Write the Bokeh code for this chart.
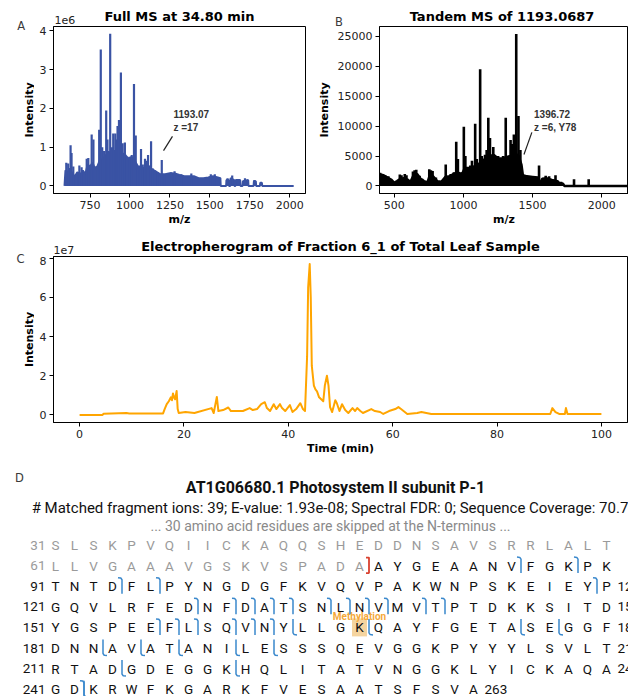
import math
from bokeh.plotting import figure
from bokeh.layouts import column, row
from bokeh.models import Range1d, FixedTicker, ColumnDataSource
from bokeh.embed import file_html
from bokeh.resources import INLINE
from bokeh.core.properties import value

# ---------------- Panel A : full MS (intensity in units of 1e6) ----------------
a_peak_mz = [601, 613, 628, 634, 645, 666, 683, 697, 712, 729,
             739, 760, 771, 781, 796, 807, 817, 826, 838, 851,
             859, 866, 876, 887, 895, 908, 916, 922, 931, 943,
             954, 968, 981, 996, 1011, 1025, 1036, 1048, 1069, 1080,
             1094, 1105, 1113, 1132, 1143, 1157, 1174, 1199, 1216, 1258,
             1279, 1321, 1384, 1506, 1531, 1611, 1640, 1720, 1779, 1820]
a_peak_int = [0.60, 0.58, 1.05, 0.85, 0.50, 0.30, 0.53, 0.48, 0.35, 0.70,
              0.72, 1.33, 1.20, 0.50, 0.50, 1.45, 3.52, 1.00, 0.90, 1.95,
              1.20, 0.90, 3.93, 1.00, 1.35, 1.35, 1.20, 1.55, 1.70, 2.93,
              1.10, 1.12, 0.75, 0.75, 0.80, 2.63, 1.30, 0.45, 0.95, 0.55,
              0.70, 0.65, 0.80, 1.15, 0.45, 0.40, 0.35, 0.67, 0.30, 0.35,
              0.38, 0.30, 0.32, 0.30, 0.30, 0.20, 0.27, 0.20, 0.15, 0.10]
a_floor_mz = [590, 596, 610, 625, 640, 655, 670, 690, 705, 720,
              735, 750, 765, 780, 795, 810, 830, 850, 870, 890,
              910, 930, 950, 970, 990, 1010, 1030, 1050, 1070, 1090,
              1110, 1130, 1150, 1170, 1190, 1220, 1250, 1280, 1310, 1340,
              1370, 1400, 1430, 1460, 1490, 1520, 1550, 1566, 1568, 1602,
              1604, 1618, 1620, 1628, 1630, 1652, 1654, 1660, 1662, 1690,
              1692, 1705, 1707, 1740, 1742, 1774, 1776, 1788, 1790, 1814,
              1816, 1826, 1828, 2025]
a_floor_int = [0.0, 0.40, 0.35, 0.45, 0.30, 0.25, 0.35, 0.30, 0.40, 0.30,
               0.55, 0.50, 0.60, 0.45, 0.50, 0.65, 0.70, 0.80, 0.85, 0.90,
               0.90, 0.95, 0.85, 0.80, 0.70, 0.75, 0.65, 0.50, 0.50, 0.45,
               0.55, 0.45, 0.40, 0.35, 0.30, 0.30, 0.33, 0.32, 0.28, 0.25,
               0.25, 0.25, 0.20, 0.20, 0.22, 0.25, 0.22, 0.20, 0.0, 0.0,
               0.15, 0.15, 0.0, 0.0, 0.20, 0.15, 0.0, 0.0, 0.15, 0.15,
               0.0, 0.0, 0.12, 0.15, 0.0, 0.0, 0.12, 0.12, 0.0, 0.0,
               0.08, 0.08, 0.0, 0.0]
a_xticks = [750, 1000, 1250, 1500, 1750, 2000]
a_yticks = [0, 1, 2, 3, 4]
a_annot_tip = (1210, 0.91)
a_annot_end = (1266, 1.28)
a_annot_text = ["1193.07", "z =17"]

# ---------------- Panel B : tandem MS ----------------
b_peak_mz = [397, 410, 434, 457, 540, 552, 576, 588, 635, 647,
             659, 683, 701, 753, 765, 777, 801, 872, 908, 931,
             948, 960, 1003, 1014, 1050, 1062, 1085, 1097, 1121, 1133,
             1156, 1168, 1180, 1192, 1216, 1251, 1287, 1306, 1330, 1341,
             1353, 1365, 1382, 1398, 1412, 1547, 1595, 1620, 1666, 1706,
             1800, 1906]
b_peak_int = [2200, 2000, 1800, 1600, 1900, 1800, 2000, 1800, 2400, 2600,
              2700, 1700, 1200, 2800, 2600, 2500, 1400, 3600, 2000, 2300,
              7400, 4500, 9900, 5000, 3400, 4200, 10400, 4500, 19500, 5000,
              5200, 6000, 11400, 8000, 6500, 5000, 5000, 11400, 5000, 7700,
              7000, 8600, 25400, 11700, 6000, 3400, 1700, 1600, 1800, 700,
              1100, 1100]
b_floor_mz = [388, 420, 450, 480, 500, 520, 545, 570, 600, 615,
              640, 665, 690, 715, 740, 760, 785, 810, 840, 870,
              900, 930, 960, 990, 1010, 1040, 1070, 1100, 1130, 1160,
              1190, 1220, 1250, 1280, 1310, 1340, 1370, 1400, 1420, 1430,
              1460, 1500, 1540, 1550, 1570, 1600, 1640, 1680, 1700, 1720,
              1730, 2200]
b_floor_int = [2000, 1800, 1400, 1000, 500, 800, 1200, 1300, 1000, 600,
               1800, 2000, 1200, 800, 600, 2000, 1500, 800, 700, 1500,
               1600, 2000, 2200, 2000, 3000, 3000, 3200, 3500, 4000, 4600,
               5000, 5200, 4600, 4600, 4800, 5000, 5500, 5000, 3500, 1800,
               1600, 1500, 1400, 300, 1200, 1300, 1000, 800, 300, 400,
               0, 0]
b_xticks = [500, 1000, 1500, 2000]
b_yticks = [0, 5000, 10000, 15000, 20000, 25000]
b_annot_tip = (1438, 5250)
b_annot_end = (1495, 8950)
b_annot_text = ["1396.72", "z =6, Y78"]

# ---------------- Panel C : electropherogram (intensity in units of 1e7) ----------------
c_time = [0, 4.4, 4.6, 9.0, 9.5, 12.0, 16.0, 16.3, 16.7, 17.1,
          17.5, 17.7, 17.9, 18.1, 18.3, 18.6, 18.8, 19.0, 20.3, 22.0,
          25.3, 25.7, 26.3, 26.6, 27.5, 28.5, 29.0, 30.2, 31.3, 32.6,
          33.2, 34.0, 34.8, 35.5, 35.9, 36.5, 37.2, 37.7, 38.4, 38.8,
          39.4, 40.3, 40.8, 41.5, 42.3, 42.8, 43.2, 43.6, 43.8, 44.1,
          44.3, 44.5, 44.9, 45.2, 45.5, 45.9, 46.3, 46.7, 47.0, 47.4,
          47.7, 48.0, 48.4, 49.0, 49.3, 49.8, 50.3, 50.9, 51.5, 52.3,
          52.8, 53.2, 53.8, 54.3, 55.9, 56.6, 57.6, 58.2, 59.3, 60.5,
          61.1, 61.6, 62.8, 64.7, 65.5, 67.4, 70.0, 80.0, 90.2, 90.6,
          91.2, 91.9, 93.0, 93.2, 93.5, 100.0]
c_int = [0.0, 0.0, 0.06, 0.10, 0.08, 0.08, 0.08, 0.30, 0.55, 0.70,
         0.90, 0.75, 1.10, 0.90, 0.80, 1.22, 0.30, 0.10, 0.15, 0.10,
         0.35, 0.10, 0.92, 0.20, 0.25, 0.38, 0.20, 0.20, 0.20, 0.35,
         0.25, 0.30, 0.55, 0.65, 0.35, 0.20, 0.55, 0.30, 0.55, 0.35,
         0.20, 0.50, 0.15, 0.30, 0.60, 0.30, 0.20, 3.00, 6.50, 7.70,
         6.00, 2.50, 1.50, 1.30, 1.20, 0.90, 0.80, 0.70, 1.50, 2.00,
         1.50, 0.40, 0.15, 0.75, 0.60, 0.20, 0.55, 0.25, 0.10, 0.35,
         0.20, 0.35, 0.20, 0.10, 0.30, 0.20, 0.15, 0.05, 0.20, 0.30,
         0.40, 0.30, 0.05, 0.10, 0.15, 0.05, 0.05, 0.05, 0.05, 0.35,
         0.15, 0.05, 0.05, 0.35, 0.05, 0.05]
c_xticks = [0, 20, 40, 60, 80, 100]
c_yticks = [0, 2, 4, 6, 8]

# ---------------- Panel D : sequence coverage ----------------
seq_start = 31
protein_seq = ("SLSKPVQIICKAQQSHEDDNSAVSRRLALT"
               "LLVGAAAVGSKVSPADAAYGEAANVFGKPK"
               "TNTDFLPYNGDGFKVQVPAKWNPSKEIEYP"
               "GQVLRFEDNFDATSNLNVMVTPTDKKSITD"
               "YGSPEEFLSQVNYLLGKQAYFGETASEGGF"
               "DNNAVATANILESSSQEVGGKPYYYLSVLT"
               "RTADGDEGGKHQLITATVNGGKLYICKAQA"
               "GDKRWFKGARKFVESAATSFSVA")
first_observed = 78
trunc_site = 77
b_sites = [85, 88, 94, 96, 119, 128, 130, 131, 132, 133, 135, 136, 137, 138,
           140, 141, 156, 157, 158, 160, 161, 162, 242]
y_sites = [163, 167, 175, 177, 183, 185, 187, 190, 192, 214, 220, 242]
methyl_site = 167
d_title = "AT1G06680.1 Photosystem II subunit P-1"
d_subtitle = ("# Matched fragment ions: 39; E-value: 1.93e-08; Spectral FDR: 0; "
              "Sequence Coverage: 70.7%")
d_skipped = "... 30 amino acid residues are skipped at the N-terminus ..."

FONT = "DejaVu Sans"
BLUE_A = "#3a53a4"
ORANGE = "#ffa500"
W = 628
LW = 34          # width of the left strips that hold panel letters and y titles


def common(**kw):
    return dict(title=None, output_backend="svg", toolbar_location=None, frame_align=False, **kw)


def style(p, xticks, yticks, xlabel, ylabel):
    p.xgrid.visible = False
    p.ygrid.visible = False
    p.outline_line_color = "black"
    p.outline_line_width = 1
    p.xaxis.ticker = FixedTicker(ticks=xticks)
    p.yaxis.ticker = FixedTicker(ticks=yticks)
    for ax in (p.xaxis[0], p.yaxis[0]):
        ax.major_tick_in = 0
        ax.major_tick_out = 4
        ax.minor_tick_in = 0
        ax.minor_tick_out = 0
        ax.major_label_text_font = FONT
        ax.major_label_text_font_size = "11px"
        ax.major_label_text_color = "#222222"
        ax.major_label_standoff = 3
        ax.axis_label_text_font = FONT
        ax.axis_label_text_font_size = "11px"
        ax.axis_label_text_font_style = "bold"
        ax.axis_label_text_color = "black"
        ax.axis_line_color = "black"
        ax.major_tick_line_color = "black"
    p.xaxis.axis_label = xlabel
    if ylabel:
        p.yaxis.axis_label = ylabel
    p.xaxis.axis_label_standoff = 1
    p.yaxis.axis_label_standoff = 4


def blank(x0, y0, w, h):
    """Axis-free strip whose data units are page pixels (y grows downward)."""
    s = figure(width=w, height=h, x_range=Range1d(x0, x0 + w), y_range=Range1d(y0 + h, y0),
               x_axis_location=None, y_axis_location=None,
               min_border_left=0, min_border_right=0, min_border_top=0, min_border_bottom=0,
               **common())
    s.xgrid.visible = False
    s.ygrid.visible = False
    s.outline_line_color = None
    return s


def px_to_x(fr, xr, px):
    return xr[0] + (px - fr[0]) * (xr[1] - xr[0]) / fr[2]


def py_to_y(fr, yr, py):
    return yr[1] - (py - fr[1]) * (yr[1] - yr[0]) / fr[3]


def txt(p, x, y, s, size, style_="normal", color="black", align="center",
        font=FONT, angle=0.0):
    p.text(x=[x], y=[y], text=[s], text_font=value(font), text_font_size=value(size),
           text_font_style=style_, text_color=color, text_align=align,
           text_baseline="middle", angle=angle)


# ---------------- top block: A and B ----------------
LA = blank(0, 0, LW, 232)
txt(LA, 20.8, 25.5, "A", "11.5px", color="#3a3a3a")
txt(LA, 29, 109.5, "Intensity", "11px", "bold", angle=math.pi / 2)

h1 = blank(LW, 0, W - LW, 26)
txt(h1, 179, 15.5, "Full MS at 34.80 min", "13px", "bold")
txt(h1, 501.5, 15.5, "Tandem MS of 1193.0687", "13px", "bold")
txt(h1, 54, 19.5, "1e6", "11px", color="#222222", align="left")
txt(h1, 338.5, 21.5, "B", "11.5px", color="#3a3a3a")

a_xr, a_yr = (521, 2099), (-0.196, 4.116)
a_fr = (53, 26, 252, 167)
pA = figure(width=314 - LW, height=206, x_range=Range1d(*a_xr), y_range=Range1d(*a_yr),
            min_border_left=53 - LW, min_border_right=9, min_border_top=0, min_border_bottom=39,
            **common())
style(pA, a_xticks, a_yticks, "m/z", None)
pA.varea(x=a_floor_mz, y1=0, y2=a_floor_int, fill_color=BLUE_A)
pA.line(a_floor_mz, a_floor_int, line_color=BLUE_A, line_width=2)
pA.segment(x0=a_peak_mz, y0=0, x1=a_peak_mz, y1=a_peak_int, line_color=BLUE_A, line_width=2.2)
pA.segment(x0=[a_annot_tip[0]], y0=[a_annot_tip[1]], x1=[a_annot_end[0]], y1=[a_annot_end[1]],
           line_color="#222222", line_width=1.2)
pA.text(x=[px_to_x(a_fr, a_xr, 173)] * 2,
        y=[py_to_y(a_fr, a_yr, 113), py_to_y(a_fr, a_yr, 127)],
        text=a_annot_text, text_font=value("Liberation Sans"), text_font_size=value("10px"),
        text_font_style="bold", text_color="#333333", text_align="left", text_baseline="middle")

b_xr, b_yr = (393, 2194), (-1270, 26670)
b_fr = (375, 26, 253, 167)
pB = figure(width=314, height=206, x_range=Range1d(*b_xr), y_range=Range1d(*b_yr),
            min_border_left=61, min_border_right=0, min_border_top=0, min_border_bottom=39,
            **common())
style(pB, b_xticks, b_yticks, "m/z", "Intensity")
pB.varea(x=b_floor_mz, y1=0, y2=b_floor_int, fill_color="black")
pB.line(b_floor_mz, b_floor_int, line_color="black", line_width=2.5)
pB.segment(x0=b_peak_mz, y0=0, x1=b_peak_mz, y1=b_peak_int, line_color="black", line_width=2.6)
pB.segment(x0=[b_annot_tip[0]], y0=[b_annot_tip[1]], x1=[b_annot_end[0]], y1=[b_annot_end[1]],
           line_color="#222222", line_width=1.2)
pB.text(x=[px_to_x(b_fr, b_xr, 532)] * 2,
        y=[py_to_y(b_fr, b_yr, 113), py_to_y(b_fr, b_yr, 127)],
        text=b_annot_text, text_font=value("Liberation Sans"), text_font_size=value("10px"),
        text_font_style="bold", text_color="#333333", text_align="left", text_baseline="middle")

top = row(LA, column(h1, row(pA, pB)))

# ---------------- middle block: C ----------------
LC = blank(0, 232, LW, 230)
txt(LC, 20, 258, "C", "11.5px", color="#3a3a3a")
txt(LC, 29, 339, "Intensity", "11px", "bold", angle=math.pi / 2)

h2 = blank(LW, 232, W - LW, 24)
txt(h2, 340, 245.5, "Electropherogram of Fraction 6_1 of Total Leaf Sample", "13px", "bold")
txt(h2, 53, 249.5, "1e7", "11px", color="#222222", align="left")

c_xr, c_yr = (-5, 105), (-0.385, 8.085)
pC = figure(width=W - LW, height=206, x_range=Range1d(*c_xr), y_range=Range1d(*c_yr),
            min_border_left=53 - LW, min_border_right=1, min_border_top=0, min_border_bottom=40,
            **common())
style(pC, c_xticks, c_yticks, "Time (min)", None)
pC.line(c_time, c_int, line_color=ORANGE, line_width=2, line_join="round")

middle = row(LC, column(h2, pC))

# ---------------- bottom block: D ----------------
pD = blank(0, 462, W, 234)

COL0, DX, ROW0, DY = 55.0, 19.0, 544.5, 20.6
GRAY, BLACK = "#9a9a9a", "#111111"
RFONT = value("Roboto")


def cell(pos):
    i = pos - seq_start
    r, c = divmod(i, 30)
    return COL0 + c * DX, ROW0 + r * DY


txt(pD, 19, 477, "D", "11.5px", color="#3a3a3a")
txt(pD, 335, 487, d_title, "16px", "bold", "#111111", font="Roboto")
txt(pD, 335, 507.5, d_subtitle, "15px", "normal", "#111111", font="Roboto")
txt(pD, 330, 525.5, d_skipped, "14px", "normal", "#8a8a8a", font="Roboto")

mx, my = cell(methyl_site)
pD.rect(x=[mx], y=[my], width=15, height=18, fill_color="#f5d49f", line_color=None)
pD.text(x=[mx], y=[my - 11], text=["Methylation"], text_font=RFONT,
        text_font_size=value("10px"), text_font_style="bold", text_color="#f5a93a",
        text_align="center", text_baseline="middle")

rx, ry, rt, rc = [], [], [], []
for k, aa in enumerate(protein_seq):
    pos = seq_start + k
    x, y = cell(pos)
    rx.append(x); ry.append(y); rt.append(aa)
    rc.append(GRAY if pos < first_observed else BLACK)
pD.text(x="x", y="y", text="t", text_color="c",
        source=ColumnDataSource(dict(x=rx, y=ry, t=rt, c=rc)),
        text_font=RFONT, text_font_size=value("13.5px"),
        text_align="center", text_baseline="middle")

nrows = (len(protein_seq) + 29) // 30
lx, ly, lt, lc = [], [], [], []
ex, ey, et = [], [], []
for r in range(nrows):
    start = seq_start + 30 * r
    end = min(start + 29, seq_start + len(protein_seq) - 1)
    x0, y0 = cell(start)
    lx.append(x0 - 10); ly.append(y0); lt.append(str(start))
    lc.append(GRAY if start < first_observed else BLACK)
    if start > first_observed:
        xe, ye = cell(end)
        ex.append(xe + 11); ey.append(ye); et.append(str(end))
pD.text(x="x", y="y", text="t", text_color="c",
        source=ColumnDataSource(dict(x=lx, y=ly, t=lt, c=lc)),
        text_font=RFONT, text_font_size=value("13.5px"),
        text_align="right", text_baseline="middle")
pD.text(x=ex, y=ey, text=et, text_color=BLACK, text_font=RFONT,
        text_font_size=value("13.5px"), text_align="left", text_baseline="middle")

BLUE_M = "#3a88cc"
bxs, bys = [], []
for s in b_sites:
    x, y = cell(s)
    b = x + DX / 2
    bxs.append([b - 4, b - 1.2, b, b]); bys.append([y - 8.5, y - 8.2, y - 6.5, y + 7.5])
for s in y_sites:
    x, y = cell(s)
    b = x + DX / 2
    bxs.append([b, b, b + 1.2, b + 4]); bys.append([y - 8.5, y + 5.5, y + 7.2, y + 7.5])
pD.multi_line(xs=bxs, ys=bys, line_color=BLUE_M, line_width=1.5)
tx, ty = cell(trunc_site)
tb = tx + DX / 2
pD.multi_line(xs=[[tb - 3, tb, tb, tb - 3]], ys=[[ty - 8, ty - 8, ty + 7.5, ty + 7.5]],
              line_color="#d9412f", line_width=1.8)

layout = column(top, middle, pD)
open("out.html", "w").write(file_html(layout, INLINE))
